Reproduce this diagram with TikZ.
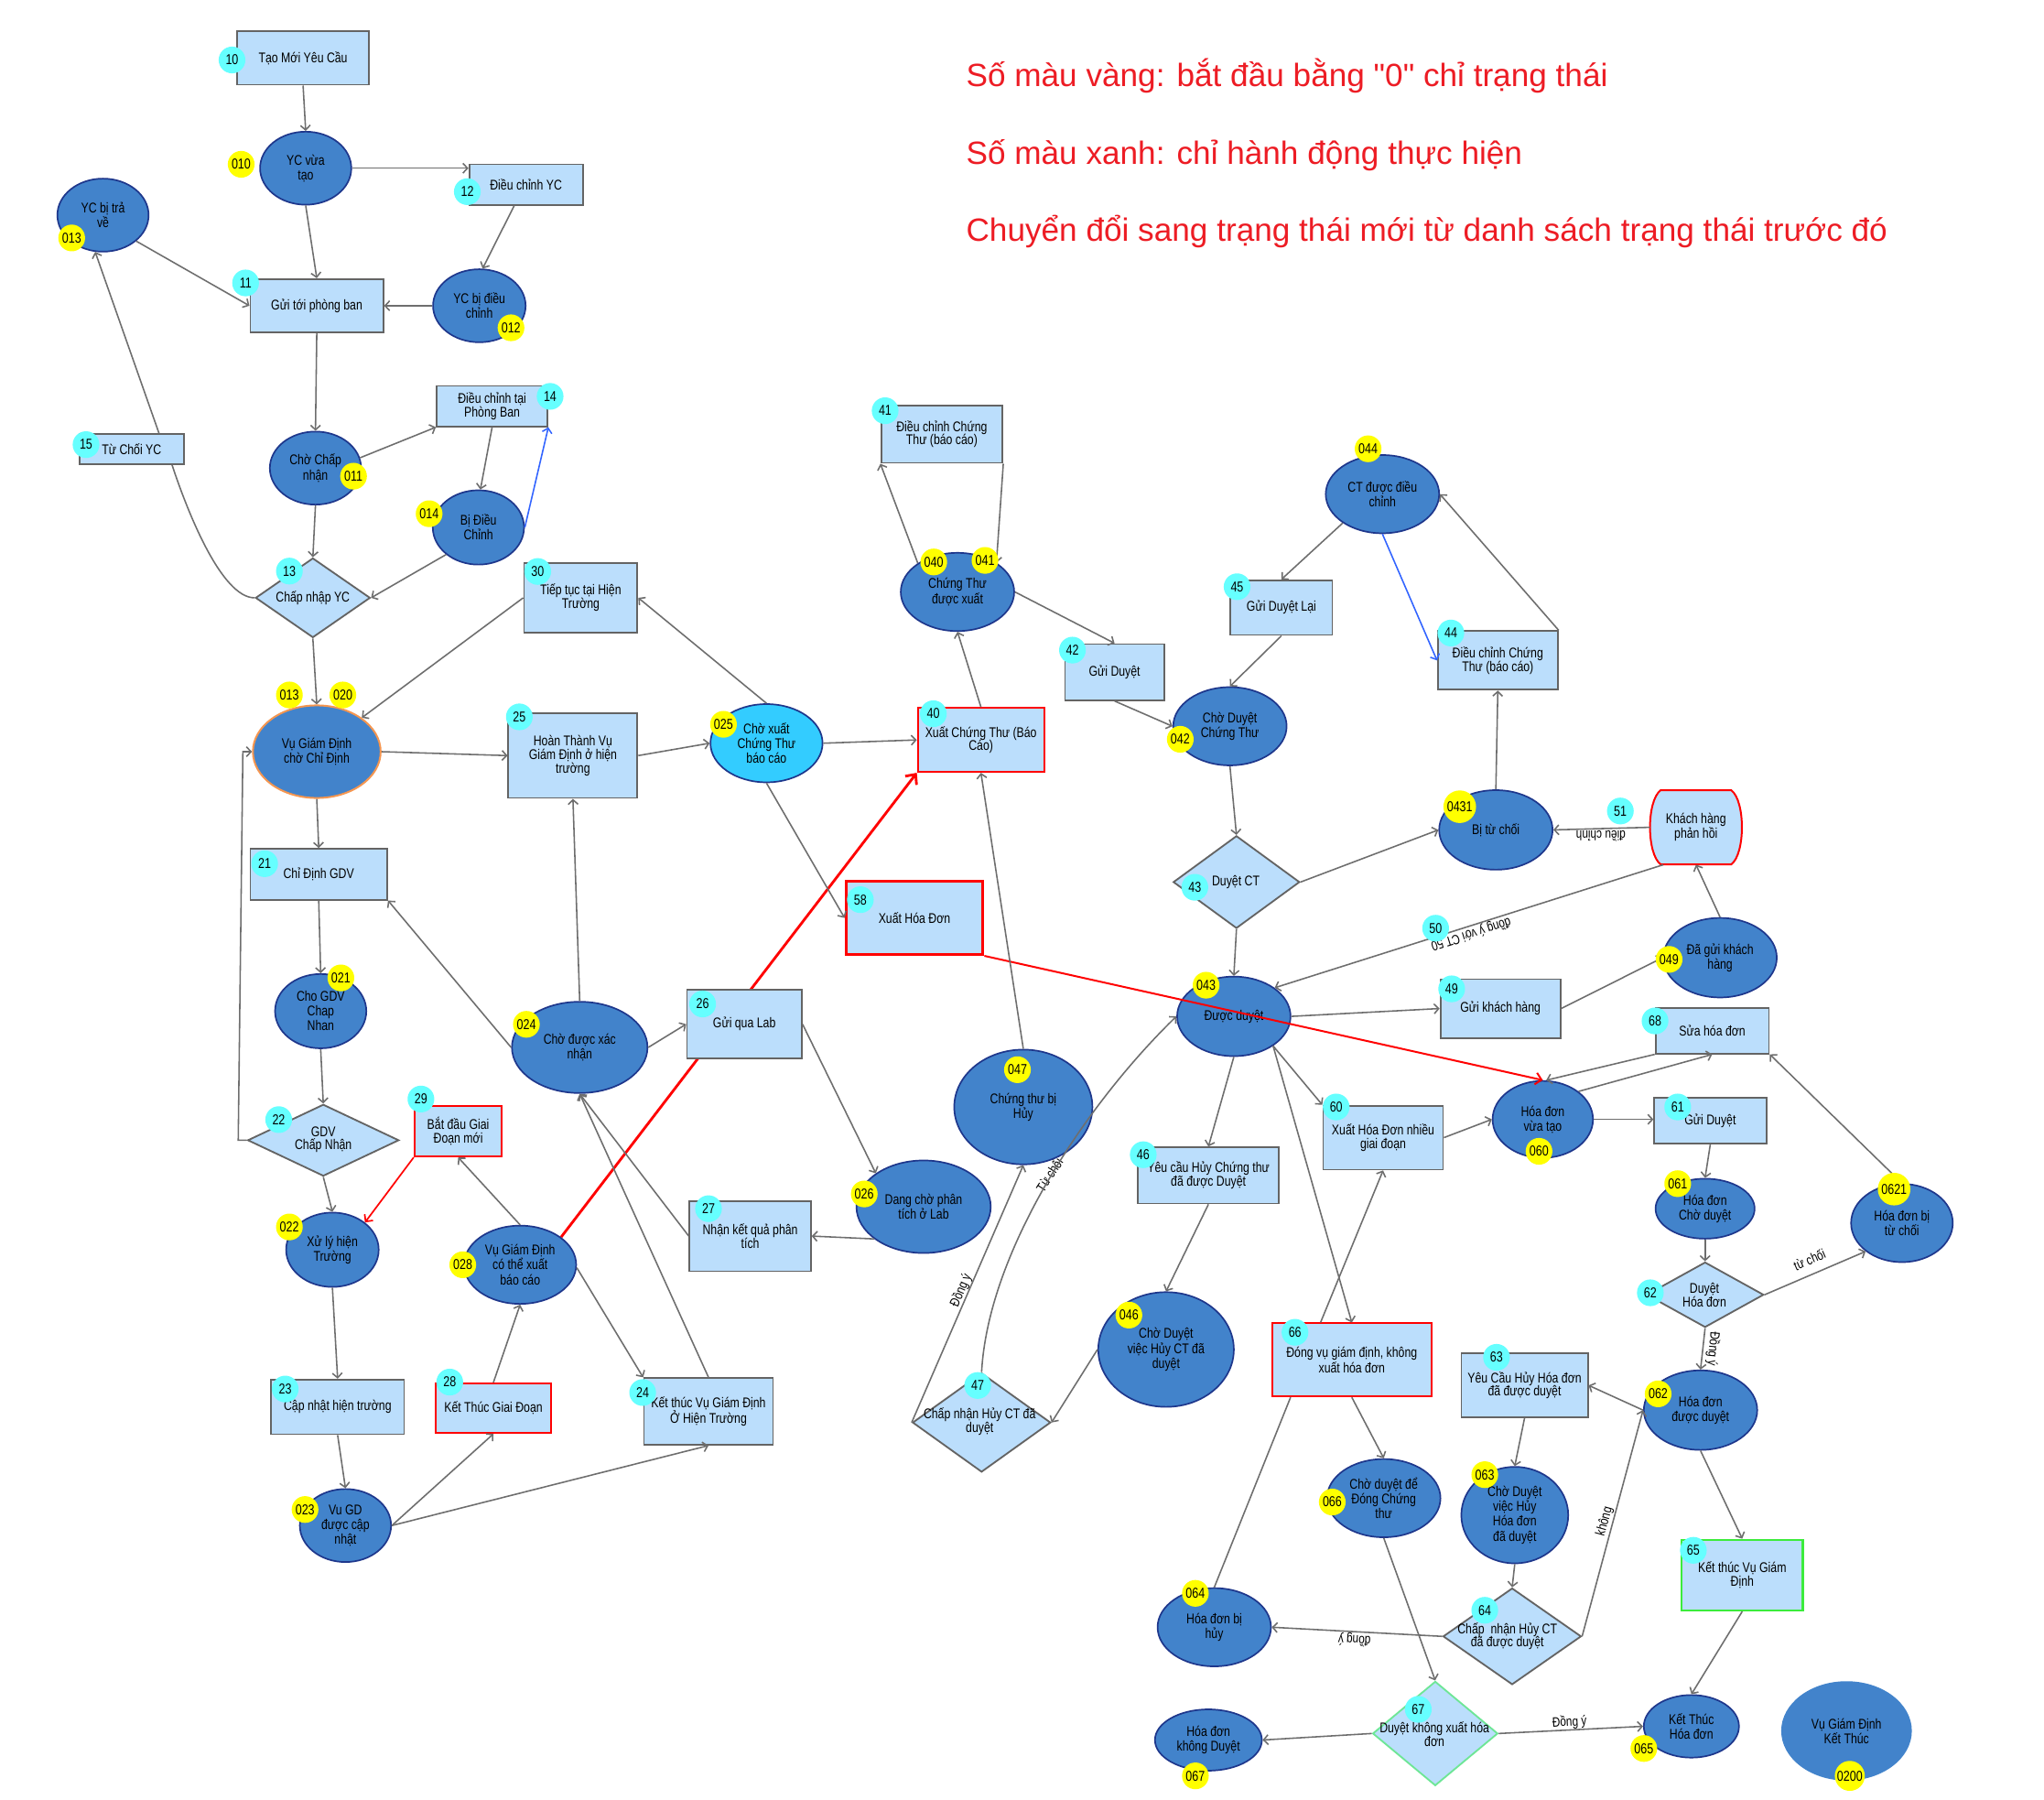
\documentclass[tikz,border=0pt]{standalone}
\usepackage{fontspec}
\usetikzlibrary{shapes.geometric,arrows.meta,calc}
\newfontfamily\nf{Liberation Sans}[FakeStretch=0.8]
\newfontfamily\hf{Liberation Sans}
\newcommand\rfont{\nf\fontsize{10.8}{10.4}\selectfont}
\newcommand\efont{\nf\fontsize{10.8}{11.3}\selectfont}
\newcommand\bfont{\nf\fontsize{11}{12}\selectfont}
\newcommand\lfont{\nf\fontsize{10.4}{11}\selectfont}
\definecolor{rfill}{RGB}{187,222,252}
\definecolor{rdraw}{RGB}{100,100,100}
\definecolor{sfill}{RGB}{66,131,203}
\definecolor{sdraw}{RGB}{30,55,140}
\definecolor{cyanc}{RGB}{102,255,255}
\definecolor{yelc}{RGB}{255,255,0}
\definecolor{edgec}{RGB}{110,110,110}
\definecolor{redc}{RGB}{255,0,0}
\definecolor{hred}{RGB}{237,28,36}
\definecolor{bluec}{RGB}{50,100,255}
\definecolor{cyanst}{RGB}{51,204,255}
\definecolor{orangec}{RGB}{245,150,80}
\definecolor{greenc}{RGB}{60,235,60}
\definecolor{greenl}{RGB}{110,230,150}
\pgfdeclarelayer{bgA}
\pgfdeclarelayer{bgB}
\pgfsetlayers{bgA,bgB,main}
\tikzset{
  box/.style={rectangle, draw=rdraw, fill=rfill, line width=1.3pt, align=center, inner sep=1pt, font=\rfont},
  redbox/.style={box, draw=redc, line width=1.4pt},
  st/.style={ellipse, draw=sdraw, fill=sfill, line width=1.2pt, align=center, inner sep=0pt, font=\efont},
  dia/.style={diamond, draw=rdraw, fill=rfill, line width=1.3pt, inner sep=0pt},
  dtext/.style={align=center, inner sep=0pt, font=\rfont},
  cb/.style={circle, fill=cyanc, inner sep=0.5pt, minimum size=20.5pt, font=\bfont},
  yb/.style={circle, fill=yelc, inner sep=0.5pt, minimum size=20.5pt, font=\bfont},
  ar/.style={draw=edgec, line width=1.1pt, -{Straight Barb[length=3.5pt,width=7.5pt]}},
  ln/.style={draw=edgec, line width=1.1pt},
  lbl/.style={font=\lfont, inner sep=0pt},
  hd/.style={anchor=base west, text=hred, font=\hf\fontsize{24.7}{28}\selectfont, inner sep=0pt}
}
\begin{document}
\begin{tikzpicture}[x=1pt,y=-1pt]
\useasboundingbox (0,0) rectangle (1568,1380);
\begin{pgfonlayer}{bgA}
\fill[white] (0,0) rectangle (1568,1380);
\end{pgfonlayer}

% headings
\node[hd] (H1) at (741,66.7) {Số màu vàng: bắt đầu bằng "0" chỉ trạng thái};
\node[hd] (H2) at (741,125.8) {Số màu xanh: chỉ hành động thực hiện};
\node[hd] (H3) at (741,184.9) {Chuyển đổi sang trạng thái mới từ danh sách trạng thái trước đó};

% rectangles
\node[box, minimum width=101pt, minimum height=41pt] (R10) at (232.5,44.5) {Tạo Mới Yêu Cầu};
\node[box, minimum width=87pt, minimum height=31pt] (R12) at (403.5,141.5) {Điều chỉnh YC};
\node[box, minimum width=102pt, minimum height=41pt] (R11) at (243,234.5) {Gửi tới phòng ban};
\node[box, minimum width=85pt, minimum height=31pt] (R14) at (377.5,311.5) {Điều chỉnh tại\\Phòng Ban};
\node[box, minimum width=80pt, minimum height=23pt] (R15) at (101,344.5) {Từ Chối YC};
\node[box, minimum width=87pt, minimum height=53pt] (R30) at (445.5,458.5) {Tiếp tục tại Hiện\\Trường};
\node[box, minimum width=99pt, minimum height=65pt] (R25) at (439.5,579.5) {Hoàn Thành Vụ\\Giám Định ở hiện\\trường};
\node[box, minimum width=105pt, minimum height=39pt] (R21) at (244.5,670.5) {Chỉ Định GDV};
\node[redbox, minimum width=67pt, minimum height=39pt] (R29) at (351.5,867.5) {Bắt đầu Giai\\Đoạn mới};
\node[box, minimum width=102pt, minimum height=42pt] (R23) at (259,1079) {Cập nhật hiện trường};
\node[redbox, minimum width=89pt, minimum height=38pt] (R28) at (378.5,1080) {Kết Thúc Giai Đoạn};
\node[box, minimum width=99pt, minimum height=51pt] (R24) at (543.5,1082.5) {Kết thúc Vụ Giám Định\\Ở Hiện Trường};
\node[box, minimum width=88pt, minimum height=53pt] (R26) at (571,785.5) {Gửi qua Lab};
\node[box, minimum width=93pt, minimum height=54pt] (R27) at (575.5,948) {Nhận kết quả phân\\tích};
\node[box, minimum width=93pt, minimum height=44pt] (R41) at (722.5,333) {Điều chỉnh Chứng\\Thư (báo cáo)};
\node[redbox, minimum width=97pt, minimum height=49pt] (R40) at (752.5,567.5) {Xuất Chứng Thư (Báo\\Cáo)};
\node[redbox, line width=2.2pt, minimum width=105pt, minimum height=56pt] (R58) at (701.5,704) {Xuất Hóa Đơn};
\node[box, minimum width=76pt, minimum height=43pt] (R42) at (855,515.5) {Gửi Duyệt};
\node[box, minimum width=78pt, minimum height=42pt] (R45) at (983,466) {Gửi Duyệt Lại};
\node[box, minimum width=92pt, minimum height=45pt] (R44) at (1149,506.5) {Điều chỉnh Chứng\\Thư (báo cáo)};
\node[box, minimum width=92pt, minimum height=45pt] (R49) at (1151,773.5) {Gửi khách hàng};
\node[box, minimum width=87pt, minimum height=35pt] (R68) at (1313.5,790.5) {Sửa hóa đơn};
\node[box, minimum width=86pt, minimum height=35pt] (R61) at (1312,859.5) {Gửi Duyệt};
\node[box, minimum width=92pt, minimum height=49pt] (R60) at (1061,872.5) {Xuất Hóa Đơn nhiều\\giai đoạn};
\node[box, minimum width=108pt, minimum height=43pt] (R46) at (927,901.5) {Yêu cầu Hủy Chứng thư\\đã được Duyệt};
\node[redbox, minimum width=122pt, minimum height=56pt] (R66) at (1037,1043) {Đóng vụ giám định, không\\xuất hóa đơn};
\node[box, minimum width=97pt, minimum height=49pt] (R63) at (1169.5,1062.5) {Yêu Cầu Hủy Hóa đơn\\đã được duyệt};
\node[box, draw=greenc, line width=1.8pt, minimum width=93pt, minimum height=54pt] (R65) at (1336.5,1208) {Kết thúc Vụ Giám\\Định};
% terminal shape with bulging sides
\draw[redc, fill=rfill, line width=1.4pt] (1274,606) -- (1328,606) .. controls (1339,614) and (1339,655) .. (1328,663) -- (1274,663) .. controls (1263,655) and (1263,614) .. (1274,606) -- cycle;
\node[rectangle, minimum width=70pt, minimum height=57pt, align=center, font=\rfont, inner sep=0pt] (KH) at (1301,634.5) {Khách hàng\\phản hồi};

% ellipses (states)
\node[st, minimum width=70pt, minimum height=56pt] (E010) at (234.5,129) {YC vừa\\tạo};
\node[st, minimum width=70pt, minimum height=56pt] (E013) at (79,165) {YC bị trả\\về};
\node[st, minimum width=71pt, minimum height=56pt] (E012) at (367.7,234.5) {YC bị điều\\chỉnh};
\node[st, minimum width=70pt, minimum height=56pt] (E011) at (242,359) {Chờ Chấp\\nhận};
\node[st, minimum width=70pt, minimum height=57pt] (E014) at (367,404.5) {Bị Điều\\Chỉnh};
\node[st, draw=orangec, line width=1.4pt, minimum width=98pt, minimum height=71pt] (E020) at (243,576.5) {Vụ Giám Định\\chờ Chỉ Định};
\node[st, minimum width=70pt, minimum height=57pt] (E021) at (246,775.5) {Cho GDV\\Chap\\Nhan};
\node[st, minimum width=71pt, minimum height=57pt] (E022) at (255,958.5) {Xử lý hiện\\Trường};
\node[st, minimum width=70pt, minimum height=56pt] (E023) at (265,1170) {Vu GD\\được cập\\nhật};
\node[st, minimum width=86pt, minimum height=60pt] (E028) at (399,970) {Vụ Giám Định\\có thể xuất\\báo cáo};
\node[st, minimum width=104pt, minimum height=70pt] (E024) at (444.7,803.3) {Chờ được xác\\nhận};
\node[st, fill=cyanst, minimum width=86pt, minimum height=60pt] (E025) at (588,570) {Chờ xuất\\Chứng Thư\\báo cáo};
\node[st, minimum width=87pt, minimum height=60pt] (E040) at (734.5,454) {Chứng Thư\\được xuất};
\node[st, minimum width=103pt, minimum height=71pt] (E026) at (708.5,925.5) {Dang chờ phân\\tích ở Lab};
\node[st, minimum width=106pt, minimum height=88pt] (E047) at (785,849) {Chứng thư bị\\Hủy};
\node[st, minimum width=104pt, minimum height=88pt] (E046) at (894.5,1035) {Chờ Duyệt\\việc Hủy CT đã\\duyệt};
\node[st, minimum width=87pt, minimum height=60pt] (E042) at (943.5,557) {Chờ Duyệt\\Chứng Thư};
\node[st, minimum width=87pt, minimum height=60pt] (E044) at (1060.5,379) {CT được điều\\chỉnh};
\node[st, minimum width=87pt, minimum height=61pt] (E0431) at (1147.5,636.5) {Bị từ chối};
\node[st, minimum width=87pt, minimum height=61pt] (E049) at (1319.5,734.5) {Đã gửi khách\\hàng};
\node[st, minimum width=87pt, minimum height=61pt] (E043) at (946.5,779.5) {Được duyệt};
\node[st, minimum width=77pt, minimum height=59pt] (E060) at (1183.5,858.5) {Hóa đơn\\vừa tạo};
\node[st, minimum width=76pt, minimum height=46pt] (E061) at (1308,927) {Hóa đơn\\Chờ duyệt};
\node[st, minimum width=78pt, minimum height=60pt] (E0621) at (1459,938) {Hóa đơn bị\\từ chối};
\node[st, minimum width=87pt, minimum height=61pt] (E062) at (1304.5,1081.5) {Hóa đơn\\được duyệt};
\node[st, minimum width=87pt, minimum height=60pt] (E066) at (1061.5,1149) {Chờ duyệt để\\Đóng Chứng\\thư};
\node[st, minimum width=82pt, minimum height=74pt] (E063) at (1162,1162) {Chờ Duyệt\\việc Hủy\\Hóa đơn\\đã duyệt};
\node[st, minimum width=87pt, minimum height=60pt] (E064) at (931.5,1248) {Hóa đơn bị\\hủy};
\node[st, minimum width=82pt, minimum height=47pt] (E067) at (927,1334.5) {Hóa đơn\\không Duyệt};
\node[st, minimum width=73pt, minimum height=48pt] (E065) at (1297.5,1324) {Kết Thúc\\Hóa đơn};
\node[st, draw=sfill, minimum width=99pt, minimum height=75pt] (E0200) at (1416.5,1327.5) {Vụ Giám Định\\Kết Thúc};

% diamonds
\node[dia, minimum width=88pt, minimum height=61pt] (D13) at (240,458.5) {};
\node[dtext] (D13t) at (240,458.5) {Chấp nhập YC};
\node[dia, minimum width=116pt, minimum height=55pt] (D22) at (248,874.5) {};
\node[dtext] (D22t) at (248,874) {GDV\\Chấp Nhận};
\node[dia, minimum width=97pt, minimum height=71pt] (D43) at (948.5,676.5) {};
\node[dtext] (D43t) at (948,676.5) {Duyệt CT};
\node[dia, minimum width=106pt, minimum height=76pt] (D47) at (753,1091) {};
\node[dtext] (D47t) at (751.5,1090) {Chấp nhận Hủy CT đã\\duyệt};
\node[dia, minimum width=90pt, minimum height=50pt] (D62) at (1308,993) {};
\node[dtext] (D62t) at (1307.5,993.4) {Duyệt\\Hóa đơn};
\node[dia, minimum width=106pt, minimum height=74pt] (D64) at (1160,1255) {};
\node[dtext] (D64t) at (1156.3,1255) {Chấp~ nhận Hủy CT\\đã được duyệt};
\node[dia, draw=greenl, minimum width=96pt, minimum height=80pt] (D67) at (1101,1329.5) {};
\node[dtext] (D67t) at (1100.4,1330) {Duyệt không xuất hóa\\đơn};

% items under the nodes
\begin{pgfonlayer}{bgB}
\draw[redc, line width=2pt, -{Straight Barb[length=6pt,width=11pt]}] (E028.34) -- (R40.south west);
\node[lbl, rotate=57] (L47b) at (805,901) {Từ chối};
\end{pgfonlayer}

% connectors
\draw[ar] (R10.south) -- (E010.north);
\draw[ar] (E010.east) -- (R12.west |- E010.east);
\draw[ar] ([xshift=-9pt]R12.south) -- (E012.85);
\draw[ar] (E012.west) -- (R11.east |- E012.west);
\draw[ar] (E010.south) -- (R11.north);
\draw[ar] (E013.-38) -- (R11.west);
\draw[ar] ([xshift=21pt]R15.north) -- (E013.-102);
\draw[ar] (R11.south) -- (E011.north);
\draw[ar] (E011.13) -- (R14.south west);
\draw[ar] (R14.south) -- (E014.87);
\draw[ar, draw=bluec] (E014.east) -- (R14.south east);
\draw[ar] (E011.south) -- (D13.north);
\draw[ar] (E014.220) -- (D13.east);
\draw[ln] ([xshift=31pt]R15.south) .. controls (144,393) and (170,458.5) .. (D13.west);
\draw[ar] (D13.south) -- (E020.north);
\draw[ar] (R30.west) -- (E020.37);
\draw[ar] (E020.east) -- (R25.west);
\draw[ar] (R25.east) -- (E025.west);
\draw[ar] (E025.north) -- (R30.east);
\draw[ar] (E025.east) -- (R40.west);
\draw[ar] (E025.south) -- (R58.west);
\draw[ar] (R40.north) -- (E040.south);
\draw[ar] (E040.144) -- (R41.south west);
\draw[ar] (R41.south east) -- (E040.37);
\draw[ar] (E040.east) -- (R42.north);
\draw[ar] (R42.south) -- (E042.west);
\draw[ar] (R45.south) -- (E042.north);
\draw[ar] (E044.216) -- (R45.north);
\draw[ar, draw=bluec] (E044.south) -- (R44.west);
\draw[ar] (R44.north east) -- (E044.east);
\draw[ar] (E0431.north) -- (R44.south);
\draw[ar] (E042.south) -- (D43.north);
\draw[ar] (D43.east) -- (E0431.west);
\draw[ar] (KH.west) -- (E0431.east);
\draw[ar] ([xshift=-25pt]KH.south) -- (E043.35);
\draw[ar] (E049.north) -- (KH.south);
\draw[ar] (R49.east) -- (E049.west);
\draw[ar] (D43.south) -- (E043.north);
\draw[ar] (E043.east) -- (R49.west);
\draw[ar] (E043.south) -- (R46.north);
\draw[ar] (E043.-37) -- (R60.north west);
\draw[ar] (E043.-37) -- (R66.north);
\draw[ar] ([xshift=-24pt]R66.north) -- (R60.south);
\draw[ar] (R60.east) -- (E060.west);
\draw[redc, line width=1.4pt, -{Straight Barb[length=4.5pt,width=9pt]}] (R58.south east) -- (E060.north);
\draw[ar] (E060.east) -- (R61.west |- E060.east);
\draw[ar] (R68.south west) -- (E060.85);
\draw[ar] (E060.38) -- (R68.south);
\draw[ar] (R61.south) -- (E061.north);
\draw[ar] (E061.south) -- (D62.north);
\draw[ar] (D62.east) -- (E0621.218);
\draw[ar] (E0621.north) -- (R68.south east);
\draw[ar] (D62.south) -- (E062.north);
\draw[ar] (E062.west) -- (R63.east);
\draw[ar] (R63.south) -- (E063.north);
\draw[ar] (E063.south) -- (D64.north);
\draw[ar] (D64.west) -- (E064.east);
\draw[ar] (D64.east) -- (E062.west);
\draw[ar] (E062.south) -- (R65.north);
\draw[ar] (R65.south) -- (E065.north);
\draw[ar] (R66.south) -- (E066.north);
\draw[ln] ([xshift=-47pt]R66.south) -- (E064.north);
\draw[ar] (E066.south) -- (D67.north);
\draw[ar] (D67.west) -- (E067.east);
\draw[ar] (D67.east) -- (E065.west);
\draw[ar] (R46.south) -- (E046.north);
\draw[ar] (E046.west) -- (D47.east);
\draw[ar] (D47.west) -- (E047.south);
\draw[ar] (D47.north) .. controls (758,960) and (832,848) .. (E043.west);
\draw[ar] (E047.north) -- (R40.south);
\draw[ar] (R26.east) -- (E026.145);
\draw[ar] (E026.213.5) -- (R27.east);
\draw[ar] (R27.west) -- (E024.south);
\draw[ar] (R24.north) -- (E024.south);
\draw[ar] (E024.east) -- (R26.west);
\draw[ar] (E024.north) -- (R25.south);
\draw[ar] (E024.west) -- (R21.south east);
\draw[ar] (E020.south) -- (R21.north);
\draw[ar] (R21.south) -- (E021.north);
\draw[ar] (E021.south) -- (D22.north);
\draw[ar] (D22.west) -- ([xshift=-6.6pt]D22.west) -- ([xshift=-7pt]E020.west) -- (E020.west);
\draw[ar] (D22.south) -- (E022.north);
\draw[redc, line width=1.2pt, -{Straight Barb[length=4pt,width=8pt]}] (R29.south west) -- (E022.40);
\draw[ar] (E028.north) -- (R29.south);
\draw[ar] (E028.-3) -- (R24.north west);
\draw[ar] (E023.east) -- (R28.south);
\draw[ar] (E023.east) -- (R24.south);
\draw[ar] (R28.north) -- (E028.south);
\draw[ar] (E022.south) -- (R23.north);
\draw[ar] (R23.south) -- (E023.north);

% connector labels
\node[lbl, rotate=180] (L51) at (1228,641.5) {điều chỉnh};
\node[lbl, rotate=197.6] (L50) at (1128.4,716.3) {đồng ý với CT 50};
\node[lbl, rotate=23.4] (L62) at (1388,966) {từ chối};
\node[lbl, rotate=-95] (L62b) at (1314,1034.6) {Đồng ý};
\node[lbl, rotate=74.4] (L64b) at (1231,1167) {không};
\node[lbl, rotate=177.2] (L64a) at (1039,1257.5) {đồng ý};
\node[lbl, rotate=2.6] (L67) at (1204,1321) {Đồng ý};
\node[lbl, rotate=66.8] (L47a) at (737.3,989.7) {Đồng ý};

% cyan badges (actions)
\node[cb] (b10) at (178,46) {10};
\node[cb] (b12) at (358.5,147) {12};
\node[cb] (b11) at (188.4,217) {11};
\node[cb] (b14) at (422,304) {14};
\node[cb] (b15) at (66,341) {15};
\node[cb] (b13) at (222,438) {13};
\node[cb] (b30) at (412.5,438.3) {30};
\node[cb] (b25) at (398.4,549.8) {25};
\node[cb] (b21) at (203,662.4) {21};
\node[cb] (b22) at (213.8,858.7) {22};
\node[cb] (b29) at (322.9,842.9) {29};
\node[cb] (b23) at (218.8,1065.3) {23};
\node[cb] (b28) at (345,1060) {28};
\node[cb] (b24) at (493,1068) {24};
\node[cb] (b26) at (539,770) {26};
\node[cb] (b27) at (543.5,927) {27};
\node[cb] (b41) at (679,315) {41};
\node[cb] (b40) at (716,547.4) {40};
\node[cb] (b58) at (660,690) {58};
\node[cb] (b42) at (822.7,498.6) {42};
\node[cb] (b45) at (949,450) {45};
\node[cb] (b44) at (1113,485.5) {44};
\node[cb] (b43) at (916.6,680.5) {43};
\node[cb] (b50) at (1101.3,711.9) {50};
\node[cb] (b51) at (1243,622) {51};
\node[cb] (b49) at (1113.6,758.4) {49};
\node[cb] (b68) at (1269.6,783) {68};
\node[cb] (b61) at (1287,849) {61};
\node[cb] (b60) at (1025,849) {60};
\node[cb] (b46) at (877,885.6) {46};
\node[cb] (b47) at (750,1062.6) {47};
\node[cb] (b66) at (993.4,1021.8) {66};
\node[cb] (b63) at (1148,1041) {63};
\node[cb] (b62) at (1266,991.5) {62};
\node[cb] (b64) at (1139,1235) {64};
\node[cb] (b65) at (1299,1189) {65};
\node[cb] (b67) at (1088,1311) {67};

% yellow badges (states)
\node[yb] (y010) at (185,126) {010};
\node[yb] (y013a) at (55,182.5) {013};
\node[yb] (y012) at (392,251.4) {012};
\node[yb] (y011) at (271.2,365.2) {011};
\node[yb] (y014) at (329.2,394) {014};
\node[yb] (y013b) at (222,533) {013};
\node[yb] (y020) at (263,533) {020};
\node[yb] (y021) at (261.5,750) {021};
\node[yb] (y022) at (222,941) {022};
\node[yb] (y023) at (234,1157.7) {023};
\node[yb] (y028) at (355,970) {028};
\node[yb] (y024) at (403.8,785.6) {024};
\node[yb] (y025) at (555,555.5) {025};
\node[yb] (y040) at (716.3,431) {040};
\node[yb] (y041) at (755.6,429.8) {041};
\node[yb] (y026) at (663,915.7) {026};
\node[yb] (y047) at (780.5,820.4) {047};
\node[yb] (y046) at (866,1008.6) {046};
\node[yb] (y042) at (905.4,567) {042};
\node[yb] (y044) at (1049.5,344.2) {044};
\node[yb, minimum size=25pt] (y0431) at (1119.8,618.7) {0431};
\node[yb] (y049) at (1280.4,735.8) {049};
\node[yb] (y043) at (925.2,755.6) {043};
\node[yb] (y060) at (1180.6,883) {060};
\node[yb] (y061) at (1287,907.8) {061};
\node[yb, minimum size=25pt] (y0621) at (1453,912) {0621};
\node[yb] (y062) at (1272,1069) {062};
\node[yb] (y066) at (1022,1152) {066};
\node[yb] (y063) at (1139,1131) {063};
\node[yb] (y064) at (917,1222) {064};
\node[yb] (y067) at (917,1362) {067};
\node[yb] (y065) at (1261,1341) {065};
\node[yb, minimum size=23pt] (y0200) at (1419,1362) {0200};
\end{tikzpicture}
\end{document}
